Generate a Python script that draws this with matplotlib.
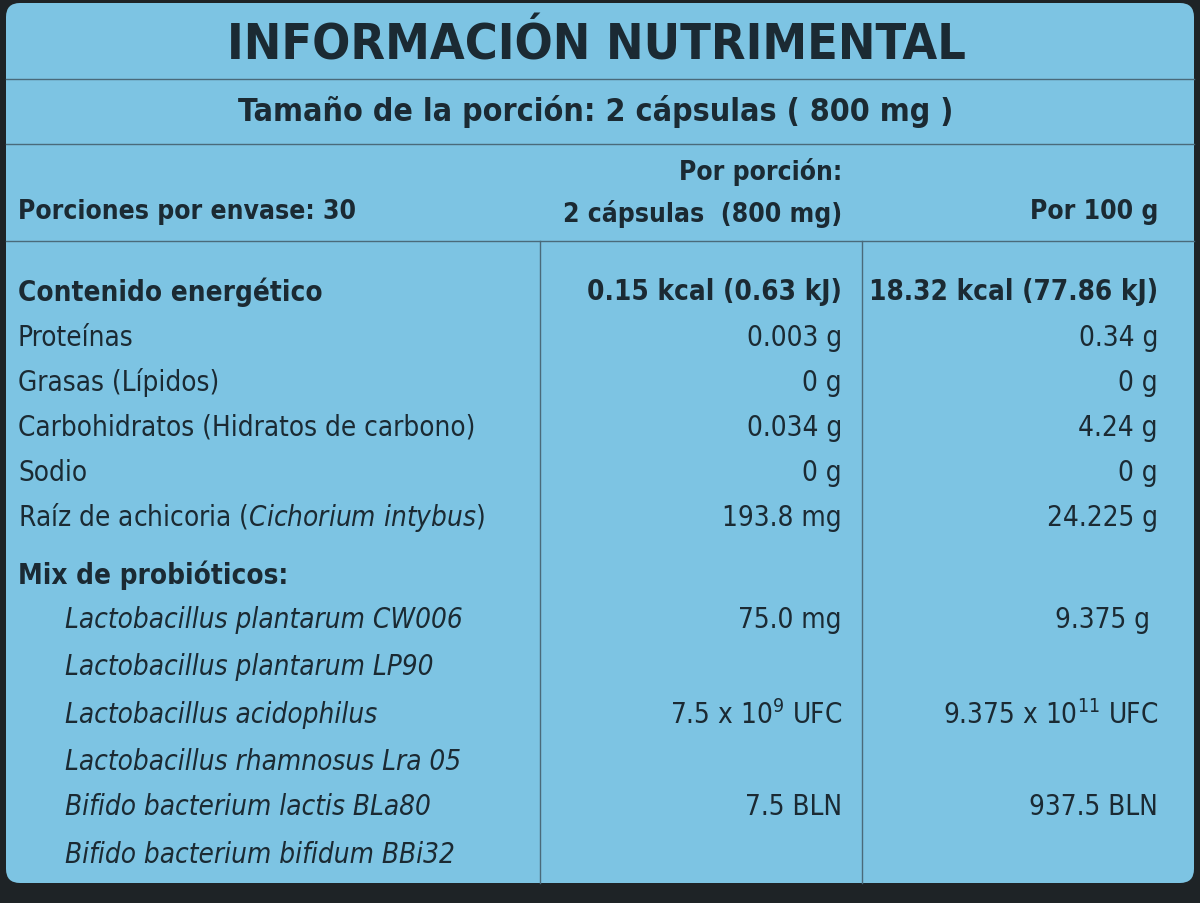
import matplotlib.pyplot as plt
from matplotlib.patches import FancyBboxPatch

# table content
title = "INFORMACIÓN NUTRIMENTAL"
subtitle = "Tamaño de la porción: 2 cápsulas ( 800 mg )"
servings = "Porciones por envase: 30"
col1_head = "Por porción:\n2 cápsulas  (800 mg)"
col2_head = "Por 100 g"

labels = ["Contenido energético", "Proteínas", "Grasas (Lípidos)",
          "Carbohidratos (Hidratos de carbono)", "Sodio",
          "Raíz de achicoria ($\\it{Cichorium\\ intybus}$)", "Mix de probióticos:",
          "Lactobacillus plantarum CW006", "Lactobacillus plantarum LP90",
          "Lactobacillus acidophilus", "Lactobacillus rhamnosus Lra 05",
          "Bifido bacterium lactis BLa80", "Bifido bacterium bifidum BBi32"]
per_portion = ["0.15 kcal (0.63 kJ)", "0.003 g", "0 g", "0.034 g", "0 g", "193.8 mg", "",
               "75.0 mg", "", "7.5 x 10$^{9}$ UFC", "", "7.5 BLN", ""]
per_100g = ["18.32 kcal (77.86 kJ)", "0.34 g", "0 g", "4.24 g", "0 g", "24.225 g", "",
            "9.375 g", "", "9.375 x 10$^{11}$ UFC", "", "937.5 BLN", ""]
row_y = [292, 338, 383, 428, 473, 518, 575, 620, 667, 715, 762, 807, 855]

bg = "#7dc4e3"
ink = "#1b2a33"
plt.rcParams['font.family'] = 'DejaVu Sans'
plt.rcParams['font.stretch'] = 'condensed'
plt.rcParams['mathtext.fontset'] = 'dejavusans'

fig = plt.figure(figsize=(12, 9.04), dpi=100)
fig.patch.set_facecolor("#1e2326")
ax = fig.add_axes([0, 0, 1, 1])
ax.set_xlim(0, 1200)
ax.set_ylim(904, 0)
ax.axis('off')
ax.add_patch(FancyBboxPatch((6, 4), 1188, 880, boxstyle="round,pad=0,rounding_size=14",
                            facecolor=bg, edgecolor='none'))

ax.text(596, 45, title, ha='center', va='center', fontsize=36, fontweight='bold', color=ink)
ax.plot([6, 1194], [80, 80], color='#4a6a7a', lw=1)
ax.text(596, 112, subtitle, ha='center', va='center', fontsize=23, fontweight='bold', color=ink)
ax.plot([6, 1194], [145, 145], color='#4a6a7a', lw=1)
ax.text(18, 212, servings, ha='left', va='center', fontsize=19, fontweight='bold', color=ink)
ax.text(842, 193, col1_head, ha='right', va='center', fontsize=19, fontweight='bold',
        color=ink, linespacing=1.6, multialignment='right')
ax.text(1158, 212, col2_head, ha='right', va='center', fontsize=19, fontweight='bold', color=ink)
ax.plot([6, 1194], [242, 242], color='#4a6a7a', lw=1)
ax.plot([540, 540], [242, 884], color='#4a6a7a', lw=1)
ax.plot([862, 862], [242, 884], color='#4a6a7a', lw=1)

for i, (lab, a, b, y) in enumerate(zip(labels, per_portion, per_100g, row_y)):
    bold = i in (0, 6)
    italic = i >= 7
    x = 65 if italic else 18
    ax.text(x, y, lab, ha='left', va='center', fontsize=20, color=ink,
            fontweight='bold' if bold else 'normal', fontstyle='italic' if italic else 'normal')
    ax.text(842, y, a, ha='right', va='center', fontsize=20, color=ink,
            fontweight='bold' if bold else 'normal')
    ax.text(1158 if i != 7 else 1150, y, b, ha='right', va='center', fontsize=20, color=ink,
            fontweight='bold' if bold else 'normal')

fig.savefig("out.png", dpi=100, facecolor=fig.get_facecolor())
